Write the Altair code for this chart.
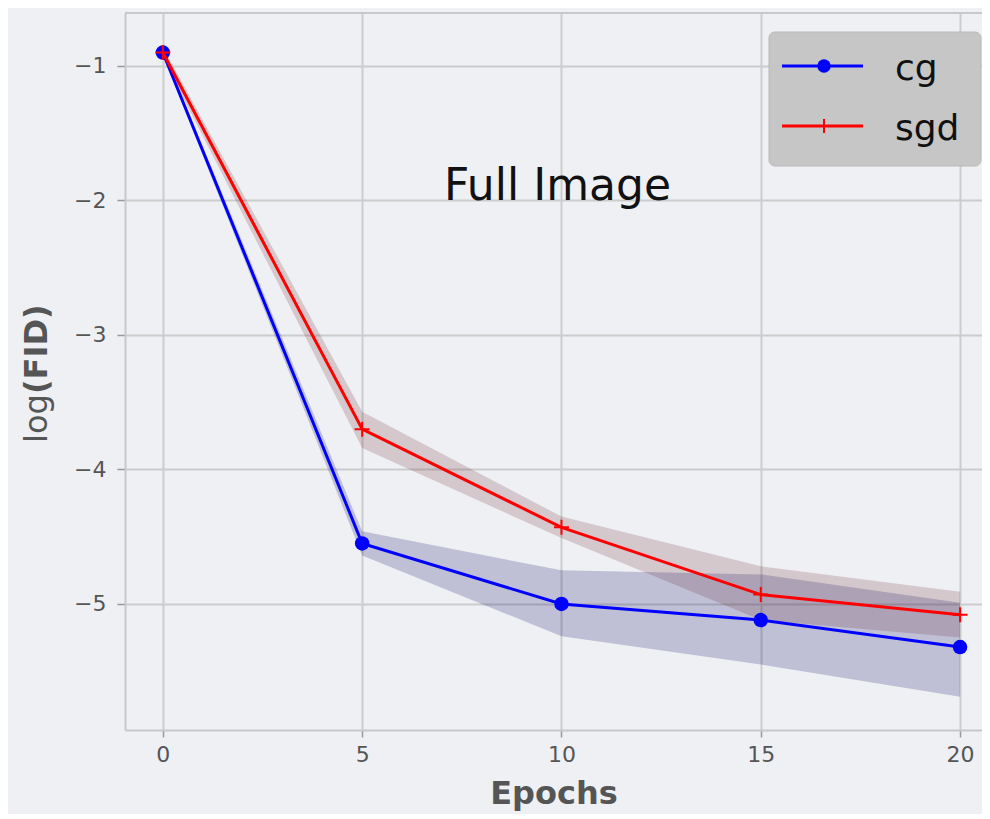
import altair as alt
import pandas as pd

# ---- data ----
epochs = [0, 5, 10, 15, 20]
cg_mean = [-0.90, -4.55, -5.00, -5.12, -5.32]
cg_low = [-0.92, -4.64, -5.24, -5.45, -5.69]
cg_high = [-0.88, -4.46, -4.75, -4.78, -4.99]
sgd_mean = [-0.90, -3.70, -4.43, -4.93, -5.08]
sgd_low = [-0.94, -3.84, -4.51, -5.12, -5.25]
sgd_high = [-0.86, -3.57, -4.35, -4.72, -4.91]

x_ticks = [0, 5, 10, 15, 20]
y_ticks = [-1, -2, -3, -4, -5]
annot_text = ["Full Image"]
annot_x = [9.9]
annot_y = [-1.9]

cg_df = pd.DataFrame({"epoch": epochs, "mean": cg_mean, "lo": cg_low, "hi": cg_high})
sgd_df = pd.DataFrame({"epoch": epochs, "mean": sgd_mean, "lo": sgd_low, "hi": sgd_high})
annot_df = pd.DataFrame({"x": annot_x, "y": annot_y, "label": annot_text})
one = pd.DataFrame({"k": [0]})

W, H = 857, 717
xs = alt.Scale(domain=[-0.95, 20.55], nice=False, zero=False)
ys = alt.Scale(domain=[-5.937, -0.606], nice=False, zero=False)

xaxis = alt.Axis(values=x_ticks, title="Epochs", format="d", tickSize=7, labelPadding=7,
                 titleFontSize=32, titleFontWeight="bold", titleColor="#555555",
                 titleFont="DejaVu Sans", titlePadding=13)
yaxis = alt.Axis(values=y_ticks, title=None, format="d", tickSize=8, labelPadding=11)

X = alt.X("epoch:Q", scale=xs, axis=xaxis)
Y = alt.Y("mean:Q", scale=ys, axis=yaxis)

cg_band = alt.Chart(cg_df).mark_area(color="#000060", opacity=0.2).encode(
    x=X, y=alt.Y("lo:Q", scale=ys, axis=yaxis), y2="hi:Q")
sgd_band = alt.Chart(sgd_df).mark_area(color="#6b2a30", opacity=0.2).encode(
    x=X, y=alt.Y("lo:Q", scale=ys, axis=yaxis), y2="hi:Q")

cg_line = alt.Chart(cg_df).mark_line(color="#0000ff", strokeWidth=3).encode(x=X, y=Y)
cg_pts = alt.Chart(cg_df).mark_point(shape="circle", filled=True, size=210,
                                     color="#0000ff", opacity=1).encode(x=X, y=Y)
plus = "M-1,0H1M0,-1V1"
sgd_line = alt.Chart(sgd_df).mark_line(color="#ff0000", strokeWidth=3).encode(x=X, y=Y)
sgd_pts = alt.Chart(sgd_df).mark_point(shape=plus, filled=False, size=225,
                                       stroke="#ff0000", strokeWidth=2, opacity=1).encode(x=X, y=Y)

annot = alt.Chart(annot_df).mark_text(fontSize=44, font="DejaVu Sans", color="#111111").encode(
    x=alt.X("x:Q", scale=xs), y=alt.Y("y:Q", scale=ys), text="label:N")

# frame top line
top_rule = alt.Chart(one).mark_rule(color="#c8c8c8", strokeWidth=2).encode(
    x=alt.value(0), x2=alt.value(W), y=alt.value(0))

# y-axis title: "log" regular + "(FID)" bold
ylog = alt.Chart(one).mark_text(text="log", angle=270, align="left", baseline="middle",
                                fontSize=32, font="DejaVu Sans", color="#555555").encode(
    x=alt.value(-88), y=alt.value(430))
yfid = alt.Chart(one).mark_text(text="(FID)", angle=270, align="left", baseline="middle",
                                fontSize=32, font="DejaVu Sans", fontWeight="bold",
                                color="#555555").encode(
    x=alt.value(-88), y=alt.value(381))

# legend box
leg_box = alt.Chart(one).mark_rect(fill="#c6c6c6", stroke="#b9b9b9", strokeWidth=1,
                                   cornerRadius=6).encode(
    x=alt.value(644), x2=alt.value(856), y=alt.value(19), y2=alt.value(153))
leg_cg_line = alt.Chart(one).mark_rule(color="#0000ff", strokeWidth=3).encode(
    x=alt.value(657), x2=alt.value(738), y=alt.value(53))
leg_cg_pt = alt.Chart(one).mark_point(shape="circle", filled=True, size=180,
                                      color="#0000ff", opacity=1).encode(
    x=alt.value(699), y=alt.value(53))
leg_sgd_line = alt.Chart(one).mark_rule(color="#ff0000", strokeWidth=3).encode(
    x=alt.value(657), x2=alt.value(738), y=alt.value(113))
leg_sgd_pt = alt.Chart(one).mark_point(shape=plus, filled=False, size=196,
                                       stroke="#ff0000", strokeWidth=2, opacity=1).encode(
    x=alt.value(699), y=alt.value(113))
leg_cg_txt = alt.Chart(one).mark_text(text="cg", align="left", baseline="alphabetic",
                                      fontSize=36, font="DejaVu Sans", color="#111111").encode(
    x=alt.value(770), y=alt.value(67))
leg_sgd_txt = alt.Chart(one).mark_text(text="sgd", align="left", baseline="alphabetic",
                                       fontSize=36, font="DejaVu Sans", color="#111111").encode(
    x=alt.value(770), y=alt.value(127))

chart = alt.layer(
    cg_band, sgd_band, cg_line, cg_pts, sgd_line, sgd_pts, annot, top_rule,
    ylog, yfid, leg_box, leg_cg_line, leg_cg_pt, leg_sgd_line, leg_sgd_pt,
    leg_cg_txt, leg_sgd_txt,
).properties(
    width=W, height=H,
    autosize=alt.AutoSizeParams(type="none"),
    padding={"left": 117, "top": 5, "right": 0, "bottom": 84},
    background="#eff0f4",
).configure_view(stroke=None).configure_axis(
    grid=True, gridColor="#cccccc", gridWidth=2,
    domainColor="#c8c8c8", domainWidth=2,
    tickColor="#999999", tickWidth=1.5,
    labelColor="#555555", labelFont="DejaVu Sans", labelFontSize=22,
)

chart.save("out.html", embed_options={"renderer": "svg", "actions": False})
